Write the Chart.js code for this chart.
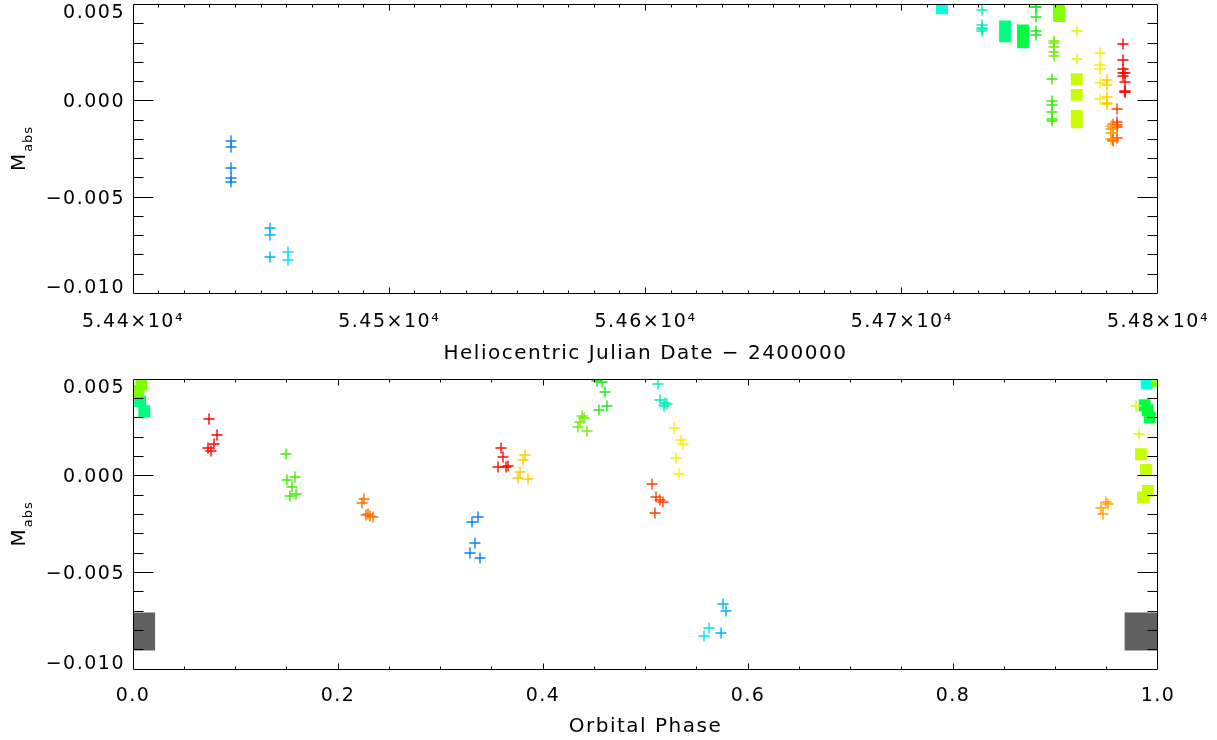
<!DOCTYPE html>
<html><head><meta charset="utf-8">
<script src="https://cdn.jsdelivr.net/npm/chart.js@4.4.0/dist/chart.umd.min.js"></script>
<style>
html,body{margin:0;padding:0;background:#fff;}
#wrap{position:relative;width:1217px;height:740px;overflow:hidden;background:#fff;}
canvas{position:absolute;left:0;}
#c1{top:0;}
#c2{top:370px;}
</style></head><body>
<div id="wrap"><canvas id="c1" width="1217" height="370"></canvas><canvas id="c2" width="1217" height="370"></canvas></div>
<script>
// ---------------- data ----------------
// Heliocentric Julian Date - 2400000 of each observing night (plus symbols)
const nightHJD = [54438.4, 54453.6, 54460.6, 54731.4, 54752.3, 54758.5, 54759.3, 54768.3,
                  54777.4, 54780.2, 54781.7, 54782.3, 54784.0, 54786.2, 54787.1];
// orbital phase / M_abs of every plus symbol, one pair of arrays per night
const n01Phase = [0.337, 0.331, 0.334, 0.329, 0.339];
const n01Mabs  = [-0.00210, -0.00238, -0.00347, -0.00398, -0.00423];
const n02Phase = [0.576, 0.579, 0.574];
const n02Mabs  = [-0.00662, -0.00696, -0.00813];
const n03Phase = [0.562, 0.557];
const n03Mabs  = [-0.00786, -0.00827];
const n04Phase = [0.5122, 0.5146, 0.5179, 0.5212, 0.5193];
const n04Mabs  = [0.00474, 0.00393, 0.00362, 0.00371, 0.00376];
const n05Phase = [0.4528, 0.4580, 0.4603, 0.4551, 0.4626];
const n05Mabs  = [0.00489, 0.00485, 0.00435, 0.00340, 0.00362];
const n06Phase = [0.1497, 0.1507, 0.1580, 0.1556, 0.1533, 0.1590];
const n06Mabs  = [0.00115, -0.00020, -0.00003, -0.00058, -0.00103, -0.00093];
const n07Phase = [0.4378, 0.4397, 0.4358, 0.4339, 0.4427];
const n07Mabs  = [0.00310, 0.00300, 0.00278, 0.00252, 0.00232];
const n08Phase = [0.979, 0.981];
const n08Mabs  = [0.00360, 0.00217];
const n09Phase = [0.5277, 0.5342, 0.5368, 0.5300, 0.5322];
const n09Mabs  = [0.00249, 0.00187, 0.00165, 0.00092, 0.00009];
const n10Phase = [0.3825, 0.3802, 0.3779, 0.3757, 0.3850];
const n10Mabs  = [0.00106, 0.00084, 0.00022, -0.00010, -0.00017];
const n11Phase = [0.9492, 0.9509, 0.9443, 0.9466];
const n11Mabs  = [-0.00133, -0.00146, -0.00167, -0.00197];
const n12Phase = [0.2250, 0.2233, 0.2292, 0.2314, 0.2340, 0.2275];
const n12Mabs  = [-0.00120, -0.00141, -0.00198, -0.00205, -0.00211, -0.00204];
const n13Phase = [0.5065, 0.5107, 0.5137, 0.5169, 0.5088];
const n13Mabs  = [-0.00041, -0.00110, -0.00124, -0.00134, -0.00193];
const n14Phase = [0.0745, 0.0817, 0.0790, 0.0735, 0.0762];
const n14Mabs  = [0.00293, 0.00212, 0.00166, 0.00143, 0.00129];
const n15Phase = [0.3587, 0.3610, 0.3564, 0.3639, 0.3659];
const n15Mabs  = [0.00143, 0.00097, 0.00045, 0.00045, 0.00052];

// filled squares
const sqHJD   = [54715.7, 54740.3, 54740.3, 54747.3, 54747.3, 54747.3, 54761.4, 54761.4, 54761.4,
                 54768.3, 54768.3, 54768.3, 54768.3];
const sqPhase = [0.989, 0.007, 0.011, 0.987, 0.990, 0.992, 0.008, 0.005, 0.999,
                 0.9834, 0.9883, 0.9902, 0.9854];
const sqMabs  = [0.00480, 0.00386, 0.00335, 0.00366, 0.00340, 0.00304, 0.00472, 0.00440, 0.00490,
                 0.00112, 0.00031, -0.00078, -0.00111];
// large grey squares (phase panel only)
const refPhase = [0.003, 0.986];
const refMabs  = [-0.00804, -0.00804];

// tick labels
const yTickValues = [-0.010, -0.005, 0.000, 0.005];
const yTickLabels = ['\u22120.010', '\u22120.005', '0.000', '0.005'];
const hjdTickValues = [54400, 54500, 54600, 54700, 54800];
const hjdTickLabels = ['5.44\u00d710\u2074', '5.45\u00d710\u2074', '5.46\u00d710\u2074', '5.47\u00d710\u2074', '5.48\u00d710\u2074'];
const phaseTickValues = [0, 0.2, 0.4, 0.6, 0.8, 1.0];
const phaseTickLabels = ['0.0', '0.2', '0.4', '0.6', '0.8', '1.0'];

// ---------------- styles ----------------
const nightColors = ['#0a7cff', '#00b0ff', '#00e0ff', '#00f0b4', '#14ee14', '#3cf000', '#70f000', '#c8ff00',
                     '#ffee00', '#ffcc00', '#ffa000', '#ff7000', '#ff4000', '#ff0000', '#ff0a00'];
const sqColors = ['#00ffe0', '#00ff80', '#00ff80', '#00ff40', '#00ff40', '#00ff40', '#80ff00', '#80ff00', '#80ff00',
                  '#c8ff00', '#c8ff00', '#c8ff00', '#c8ff00'];
const FONT = '"DejaVu Sans", sans-serif';

const nightPhase = [n01Phase, n02Phase, n03Phase, n04Phase, n05Phase, n06Phase, n07Phase, n08Phase,
                    n09Phase, n10Phase, n11Phase, n12Phase, n13Phase, n14Phase, n15Phase];
const nightMabs = [n01Mabs, n02Mabs, n03Mabs, n04Mabs, n05Mabs, n06Mabs, n07Mabs, n08Mabs,
                   n09Mabs, n10Mabs, n11Mabs, n12Mabs, n13Mabs, n14Mabs, n15Mabs];

// ---------------- IDL-style box, inward ticks, y labels, y title ----------------
const idlAxes = {
  id: 'idlAxes',
  beforeDraw(chart) { chart.ctx.letterSpacing = '1.5px'; },
  beforeDatasetsDraw(chart) {
    // snap plus symbols to whole pixels so their strokes cover two pixel columns/rows evenly
    chart.data.datasets.forEach((ds, i) => {
      if (ds.pointStyle !== 'cross') return;
      chart.getDatasetMeta(i).data.forEach(el => {
        el.x = Math.round(el.x);
        el.y = Math.round(el.y);
      });
    });
  },
  afterDraw(chart, args, o) {
    const ctx = chart.ctx, a = chart.chartArea;
    const xs = chart.scales.x, ys = chart.scales.y;
    const L = Math.floor(a.left) + 0.5, R = Math.ceil(a.right) - 0.5;
    const T = Math.floor(a.top) + 0.5, B = Math.ceil(a.bottom) - 0.5;
    ctx.save();
    ctx.strokeStyle = '#000'; ctx.lineWidth = 1;
    ctx.beginPath();
    ctx.rect(L, T, R - L, B - T);
    const nY = Math.round((ys.max - ys.min) / o.yMinor), yEvery = Math.round(o.yMajor / o.yMinor);
    for (let k = 1; k < nY; k++) {
      const py = Math.floor(ys.getPixelForValue(ys.min + k * o.yMinor)) + 0.5;
      const len = (k % yEvery === 0) ? o.yLen : o.yLen / 2;
      ctx.moveTo(L, py); ctx.lineTo(L + len, py);
      ctx.moveTo(R, py); ctx.lineTo(R - len, py);
    }
    const nX = Math.round((xs.max - xs.min) / o.xMinor), xEvery = Math.round(o.xMajor / o.xMinor);
    for (let k = 1; k < nX; k++) {
      const px = Math.floor(xs.getPixelForValue(xs.min + k * o.xMinor)) + 0.5;
      const len = (k % xEvery === 0) ? o.xLen : o.xLen / 2;
      ctx.moveTo(px, B); ctx.lineTo(px, B - len);
      ctx.moveTo(px, T); ctx.lineTo(px, T + len);
    }
    ctx.stroke();
    // y tick labels
    ctx.fillStyle = '#000';
    ctx.font = '19px ' + FONT;
    ctx.letterSpacing = '1.5px';
    ctx.textAlign = 'right'; ctx.textBaseline = 'middle';
    yTickValues.forEach((v, i) => {
      let py = ys.getPixelForValue(v) + 1.5;
      py = Math.min(Math.max(py, a.top + 9), a.bottom - 5);
      ctx.fillText(yTickLabels[i], a.left - 8, py);
    });
    // y title  M_abs
    const cy = (a.top + a.bottom) / 2;
    ctx.translate(25, cy);
    ctx.rotate(-Math.PI / 2);
    ctx.textAlign = 'left'; ctx.textBaseline = 'alphabetic';
    ctx.letterSpacing = '1px';
    ctx.font = '20px ' + FONT;
    const wM = ctx.measureText('M').width;
    ctx.font = '13px ' + FONT;
    const wS = ctx.measureText('abs').width;
    const x0 = -(wM + wS) / 2;
    ctx.font = '20px ' + FONT;
    ctx.fillText('M', x0, 0);
    ctx.font = '13px ' + FONT;
    ctx.fillText('abs', x0 + wM + 1, 7);
    ctx.restore();
  }
};

function yScale() {
  return {
    type: 'linear', min: -0.010, max: 0.005,
    grid: {display: false, drawTicks: false}, border: {display: false},
    ticks: {display: false},
    afterFit(s) { s.width = 133; s.paddingTop = 0; s.paddingBottom = 0; }
  };
}

function xScale(min, max, step, values, labels, title, height, tickPad, titlePad) {
  return {
    type: 'linear', min: min, max: max,
    grid: {display: false, drawTicks: false}, border: {display: false},
    ticks: {
      stepSize: step, autoSkip: false, maxRotation: 0, minRotation: 0,
      padding: tickPad, color: '#000', font: {family: FONT, size: 19},
      callback: (v) => { const i = values.findIndex(t => Math.abs(t - v) < 1e-9); return i < 0 ? '' : labels[i]; }
    },
    title: {display: true, text: title, color: '#000', font: {family: FONT, size: 20},
            padding: {top: 0, bottom: titlePad}},
    afterFit(s) { s.height = height; s.paddingLeft = 0; s.paddingRight = 0; }
  };
}

function plusSets(xOf) {
  return nightMabs.map((ms, i) => ({
    label: 'night ' + (i + 1),
    data: ms.map((m, k) => ({x: xOf(i, k), y: m})),
    pointStyle: 'cross', pointRadius: 5.5, pointBorderWidth: 1.4,
    pointBorderColor: nightColors[i], pointBackgroundColor: nightColors[i],
    showLine: false, clip: 0
  }));
}

const common = {
  responsive: false, devicePixelRatio: 1, animation: false, events: [],
  plugins: {legend: {display: false}, tooltip: {enabled: false}}
};

// ---------------- top: M_abs vs HJD ----------------
new Chart(document.getElementById('c1'), {
  type: 'scatter',
  data: {
    datasets: [
      ...plusSets((i, k) => nightHJD[i]),
      {label: 'squares', data: sqMabs.map((m, k) => ({x: sqHJD[k], y: m})),
       pointStyle: 'rect', pointRadius: 8.4, pointBorderWidth: 0,
       pointBackgroundColor: sqColors, showLine: false, clip: 0}
    ]
  },
  options: Object.assign({}, common, {
    layout: {autoPadding: false, padding: {left: 0, right: 59, top: 4.5, bottom: 0}},
    scales: {
      x: xScale(54400, 54800, 100, hjdTickValues, hjdTickLabels,
                'Heliocentric Julian Date \u2212 2400000', 76.5, 17, 4.6),
      y: yScale()
    },
    plugins: Object.assign({}, common.plugins, {
      idlAxes: {xMinor: 10, xMajor: 100, xLen: 6, yMinor: 0.001, yMajor: 0.005, yLen: 20}
    })
  }),
  plugins: [idlAxes]
});

// ---------------- bottom: M_abs vs orbital phase ----------------
new Chart(document.getElementById('c2'), {
  type: 'scatter',
  data: {
    datasets: [
      ...plusSets((i, k) => nightPhase[i][k]),
      {label: 'squares', data: sqMabs.map((m, k) => ({x: sqPhase[k], y: m})),
       pointStyle: 'rect', pointRadius: 8.4, pointBorderWidth: 0,
       pointBackgroundColor: sqColors, showLine: false, clip: 0},
      {label: 'grey', data: refMabs.map((m, k) => ({x: refPhase[k], y: m})),
       pointStyle: 'rect', pointRadius: 26.9, pointBorderWidth: 0,
       pointBackgroundColor: '#606060', showLine: false, clip: 0}
    ]
  },
  options: Object.assign({}, common, {
    layout: {autoPadding: false, padding: {left: 0, right: 59, top: 9.3, bottom: 0}},
    scales: {
      x: xScale(0, 1, 0.2, phaseTickValues, phaseTickLabels, 'Orbital Phase', 70.7, 15.3, 1.6),
      y: yScale()
    },
    plugins: Object.assign({}, common.plugins, {
      idlAxes: {xMinor: 0.05, xMajor: 0.2, xLen: 6, yMinor: 0.001, yMajor: 0.005, yLen: 20}
    })
  }),
  plugins: [idlAxes]
});
</script></body></html>
